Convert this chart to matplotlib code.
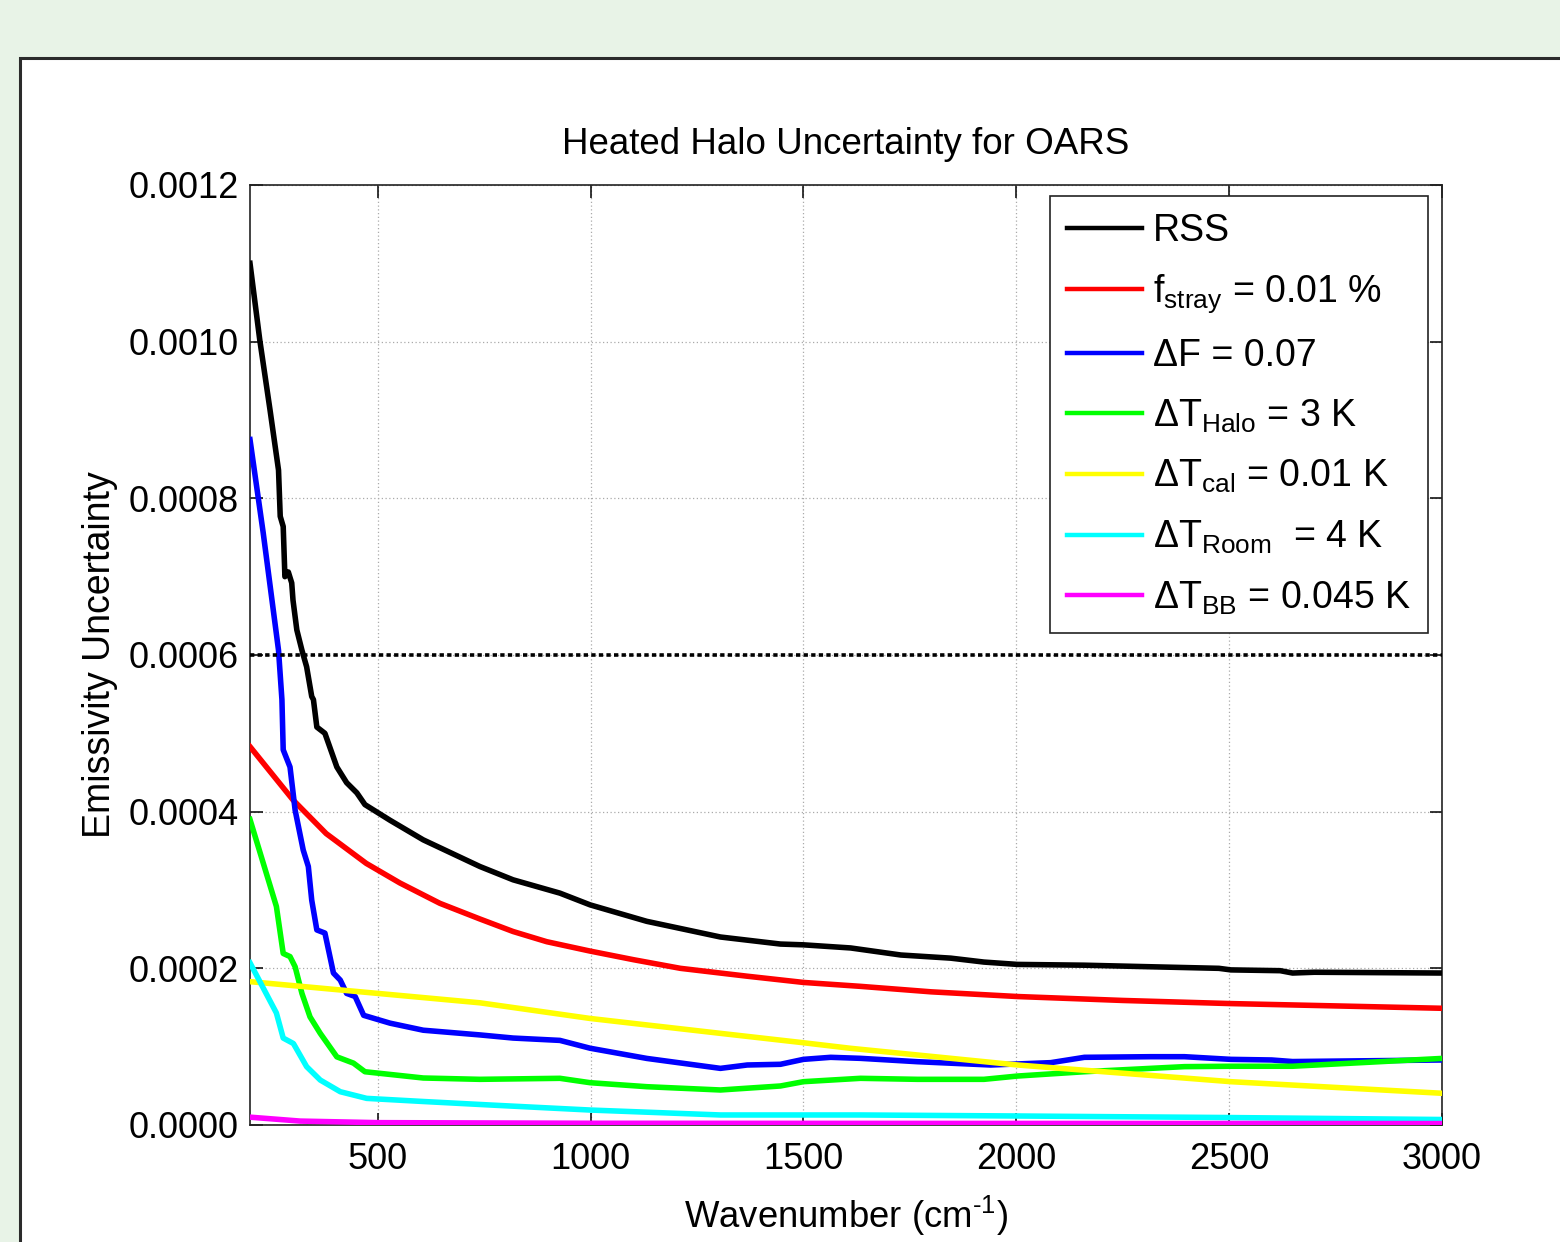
import matplotlib
matplotlib.use("Agg")
import matplotlib.pyplot as plt
from matplotlib.patches import Rectangle
from matplotlib.ticker import FuncFormatter

plt.rcParams['font.family'] = ['Liberation Sans', 'DejaVu Sans']
plt.rcParams['mathtext.fontset'] = 'custom'
plt.rcParams['mathtext.rm'] = 'Liberation Sans'
plt.rcParams['mathtext.it'] = 'Liberation Sans:italic'
plt.rcParams['mathtext.bf'] = 'Liberation Sans:bold'

# ---------------- data ----------------
rss_x = [200, 223, 247, 267, 271, 278, 282, 290, 298, 301, 310, 322, 333, 345, 349, 357,
         376, 404, 427, 451, 470, 529, 607, 740, 818, 928, 999, 1132, 1305, 1446, 1500,
         1611, 1729, 1846, 1924, 2003, 2160, 2316, 2476, 2504, 2620, 2649, 2700, 3000]
rss_y = [0.00110, 0.001002, 0.000913, 0.000836, 0.000777, 0.000764, 0.000700, 0.000706,
         0.000692, 0.000670, 0.000632, 0.000606, 0.000585, 0.000547, 0.000543, 0.000508,
         0.000500, 0.000457, 0.000437, 0.000424, 0.000409, 0.000389, 0.000364, 0.000330,
         0.000313, 0.000296, 0.000281, 0.000260, 0.000240, 0.000231, 0.000230, 0.000226,
         0.000217, 0.000213, 0.000208, 0.000205, 0.000204, 0.000202, 0.000200, 0.000198,
         0.000197, 0.000194, 0.000195, 0.000194]

stray_x = [200, 301, 379, 473, 552, 646, 740, 818, 897, 999, 1101, 1211, 1367, 1500, 1634,
           1800, 2003, 2250, 2504, 3000]
stray_y = [0.000483, 0.000415, 0.000372, 0.000334, 0.000309, 0.000283, 0.000263, 0.000247,
           0.000234, 0.000222, 0.000211, 0.000200, 0.000190, 0.000182, 0.000177, 0.000170,
           0.000164, 0.000159, 0.000155, 0.000149]

dF_x = [200, 231, 267, 275, 278, 294, 306, 325, 337, 345, 357, 376, 396, 412, 427, 447,
        467, 529, 607, 740, 818, 928, 999, 1132, 1305, 1368, 1446, 1500, 1564, 1634, 1768,
        1940, 2081, 2160, 2316, 2395, 2504, 2600, 2649, 3000]
dF_y = [0.000875, 0.000756, 0.000606, 0.000543, 0.000479, 0.000457, 0.000402, 0.000351,
        0.000330, 0.000287, 0.000249, 0.000245, 0.000194, 0.000185, 0.000168, 0.000164,
        0.000140, 0.000130, 0.000121, 0.000115, 0.000111, 0.000108, 0.000098, 0.000085,
        0.0000723, 0.0000766, 0.0000775, 0.0000838, 0.0000864, 0.0000851, 0.0000808,
        0.0000766, 0.0000796, 0.0000864, 0.0000872, 0.0000872, 0.0000838, 0.0000830,
        0.0000810, 0.0000830]

dTh_x = [200, 262, 278, 294, 306, 322, 341, 365, 404, 443, 470, 607, 740, 928, 999, 1132,
         1305, 1446, 1500, 1634, 1768, 1924, 2003, 2160, 2395, 2504, 2649, 3000]
dTh_y = [0.000390, 0.000279, 0.000219, 0.000215, 0.000202, 0.000168, 0.000138, 0.000117,
         0.000087, 0.000079, 0.000068, 0.000060, 0.0000583, 0.0000596, 0.0000540, 0.0000489,
         0.0000447, 0.0000498, 0.0000553, 0.0000596, 0.0000583, 0.0000583, 0.0000625,
         0.0000680, 0.0000745, 0.0000750, 0.0000750, 0.0000850]

dTcal_x = [200, 500, 740, 999, 1305, 1500, 1611, 2003, 2504, 3000]
dTcal_y = [0.000183, 0.000168, 0.000156, 0.000136, 0.000117, 0.000105, 0.0000979,
           0.0000766, 0.0000553, 0.0000405]

dTr_x = [200, 262, 278, 302, 333, 365, 412, 474, 607, 765, 999, 1305, 1634, 2003, 2504, 3000]
dTr_y = [0.000207, 0.000143, 0.000111, 0.000104, 0.0000745, 0.0000574, 0.0000425,
         0.0000340, 0.0000300, 0.0000255, 0.0000191, 0.0000128, 0.0000128, 0.0000115,
         0.0000095, 0.0000070]

dTbb_x = [200, 318, 500, 1000, 2000, 3000]
dTbb_y = [0.0000100, 0.0000050, 0.0000030, 0.0000022, 0.0000020, 0.0000018]

threshold = 0.0006

labels = ['RSS',
          'f$_{\\mathrm{stray}}$ = 0.01 %',
          '\u0394F = 0.07',
          '\u0394T$_{\\mathrm{Halo}}$ = 3 K',
          '\u0394T$_{\\mathrm{cal}}$ = 0.01 K',
          '\u0394T$_{\\mathrm{Room}}$  = 4 K',
          '\u0394T$_{\\mathrm{BB}}$ = 0.045 K']
colors = ['#000000', '#ff0000', '#0000ff', '#00ff00', '#ffff00', '#00ffff', '#ff00ff']

xticks = [500, 1000, 1500, 2000, 2500, 3000]
yticks = [0.0, 0.0002, 0.0004, 0.0006, 0.0008, 0.0010, 0.0012]

# ---------------- figure ----------------
fig = plt.figure(figsize=(15.6, 12.42), dpi=100, facecolor='#e8f3e7')
panel = Rectangle((20 / 1560, -0.05), 1.2, 1 - 58 / 1242 + 0.05, transform=fig.transFigure,
                  facecolor='white', edgecolor='#2b2b2b', linewidth=2.2, zorder=-10)
fig.add_artist(panel)

ax = fig.add_axes([250 / 1560, 1 - 1125 / 1242, (1442 - 250) / 1560, (1125 - 185) / 1242])
ax.set_facecolor('white')
ax.set_zorder(1)

series = [(rss_x, rss_y), (stray_x, stray_y), (dF_x, dF_y), (dTh_x, dTh_y),
          (dTcal_x, dTcal_y), (dTr_x, dTr_y), (dTbb_x, dTbb_y)]
handles = []
for (sx, sy), c, lab in zip(series, colors, labels):
    h, = ax.plot(sx, sy, color=c, lw=4.0, label=lab, solid_joinstyle='round', zorder=3)
    handles.append(h)

ax.axhline(threshold, color='black', lw=2.6, linestyle=(0, (1.2, 0.9)), zorder=3)

ax.set_xlim(200, 3000)
ax.set_ylim(0, 0.0012)
ax.set_xticks(xticks)
ax.set_yticks(yticks)
ax.yaxis.set_major_formatter(FuncFormatter(lambda v, p: f'{v:.4f}'))
ax.grid(True, linestyle=(0, (1, 2)), color='#aaaaaa', linewidth=0.9, zorder=1)
ax.tick_params(direction='in', top=True, right=True, length=9, width=1.1,
               labelsize=26, colors='black')
ax.tick_params(axis='x', pad=12)
ax.tick_params(axis='y', pad=8)
for s in ax.spines.values():
    s.set_linewidth(1.2)
    s.set_color('#222222')

ax.set_title('Heated Halo Uncertainty for OARS', fontsize=26.5, pad=22)
ax.set_xlabel('Wavenumber (cm$^{\\text{-1}}$)', fontsize=26.3, labelpad=12)
ax.set_ylabel('Emissivity Uncertainty', fontsize=27, labelpad=7.5)

leg = ax.legend(handles=handles, loc='upper right', bbox_to_anchor=(0.988, 0.988),
                fontsize=27, frameon=True, fancybox=False, framealpha=1,
                edgecolor='#222222', handlelength=2.0, handletextpad=0.3,
                borderpad=0.45, labelspacing=0.62, borderaxespad=0)
leg.get_frame().set_linewidth(1.2)
for lh in leg.get_lines():
    lh.set_linewidth(3.2)

fig.savefig('out.png', dpi=100, facecolor=fig.get_facecolor())
